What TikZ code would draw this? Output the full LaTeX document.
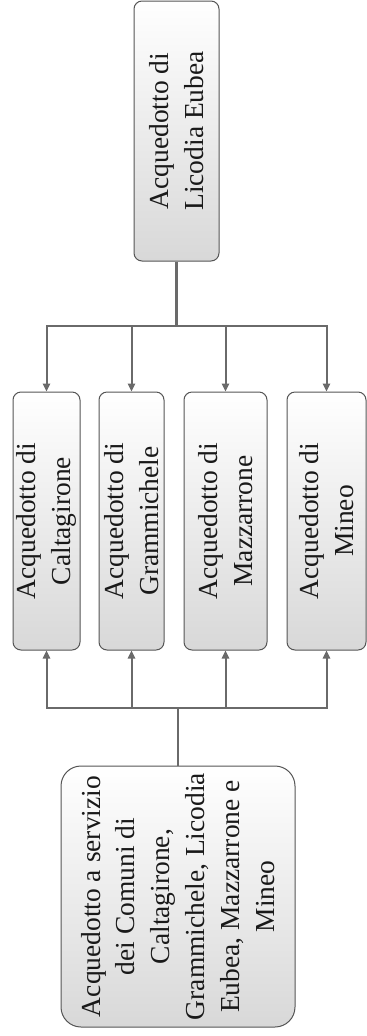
\documentclass[tikz,border=0pt]{standalone}
\usepackage{fontspec}
\setmainfont{Liberation Serif}
\usetikzlibrary{arrows.meta}
\definecolor{linegray}{HTML}{6A6A6A}
\definecolor{boxborder}{HTML}{555555}
\definecolor{shadegray}{HTML}{D8D8D8}
\begin{document}
\begin{tikzpicture}[x=0.75pt,y=-0.75pt,
  box/.style={draw=boxborder,line width=0.75pt,rounded corners=6pt,rotate=90,
    top color=white,bottom color=shadegray,align=center,inner sep=0pt,
    font=\fontsize{20.6}{26.2}\selectfont,text=black!90},
  conn/.style={draw=linegray,line width=1.5pt},
  arr/.style={conn,-{Triangle[length=6pt,width=5.5pt]}},
  stemline/.style={draw=linegray,line width=2pt}]
\useasboundingbox (0,0) rectangle (367,1036);
\node[box,minimum width=195pt,minimum height=63.75pt] (top) at (176.5,131) {Acquedotto di\\Licodia Eubea};
\node[box,minimum width=193.5pt,minimum height=50.25pt] (m1) at (46.5,521) {Acquedotto di\\Caltagirone};
\node[box,minimum width=193.5pt,minimum height=48.75pt] (m2) at (131.5,521) {Acquedotto di\\Grammichele};
\node[box,minimum width=193.5pt,minimum height=62.25pt] (m3) at (225.5,521) {Acquedotto di\\Mazzarrone};
\node[box,minimum width=193.5pt,minimum height=59.25pt] (m4) at (326.5,521) {Acquedotto di\\Mineo};
\node[box,rounded corners=15pt,minimum width=195.75pt,minimum height=175.5pt] (bot) at (178,896.5)
  {Acquedotto a servizio\\dei Comuni di\\Caltagirone,\\Grammichele, Licodia\\Eubea, Mazzarrone e\\Mineo};
\coordinate (j1) at (176.5,326);
\coordinate (j2) at (178,708);
\draw[stemline] (top.west) -- (j1);
\draw[arr] (j1) -| (m1.east);
\draw[arr] (j1) -| (m2.east);
\draw[arr] (j1) -| (m3.east);
\draw[arr] (j1) -| (m4.east);
\draw[stemline] (bot.east) -- (j2);
\draw[arr] (j2) -| (m1.west);
\draw[arr] (j2) -| (m2.west);
\draw[arr] (j2) -| (m3.west);
\draw[arr] (j2) -| (m4.west);
\end{tikzpicture}
\end{document}
